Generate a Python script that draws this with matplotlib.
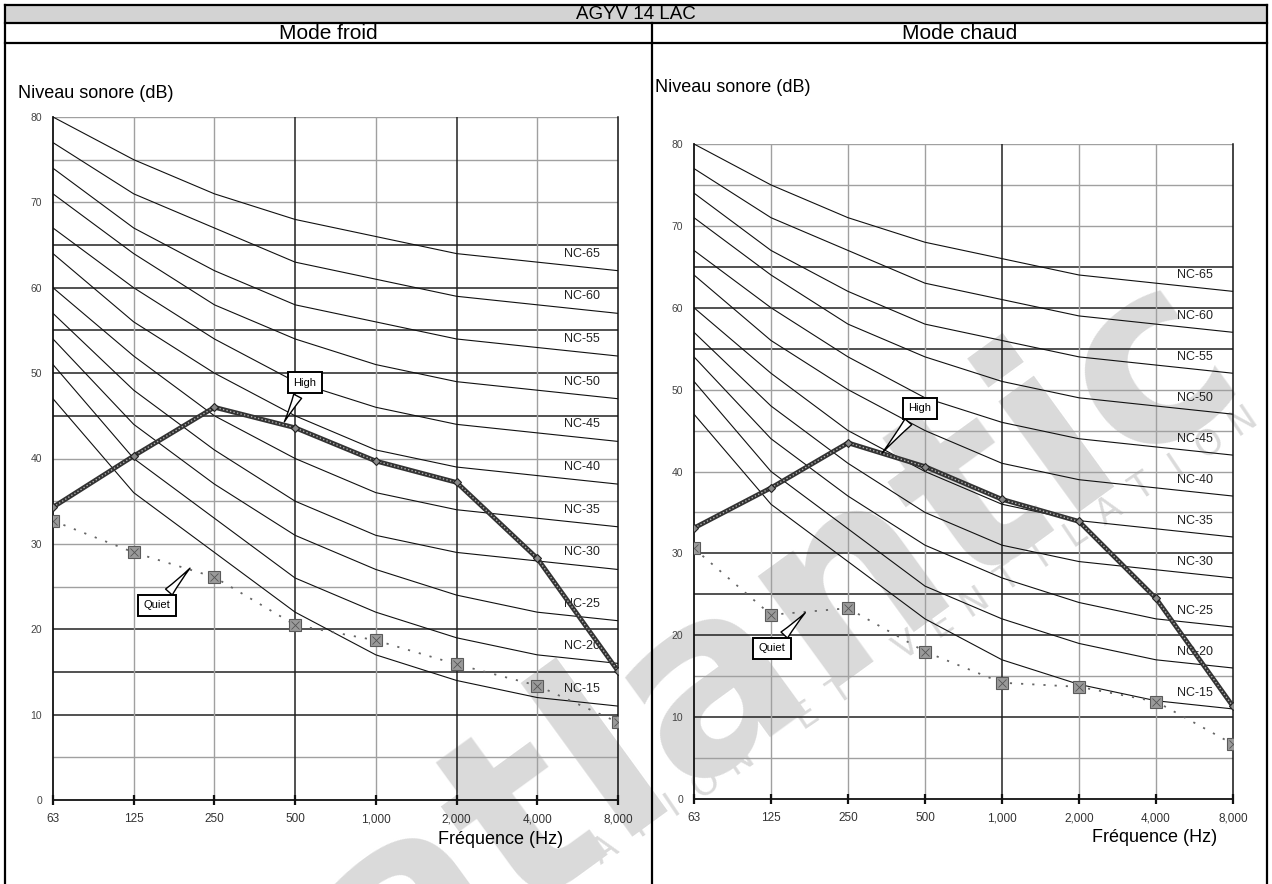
import matplotlib
matplotlib.use("Agg")
import matplotlib.pyplot as plt
from matplotlib.lines import Line2D
from matplotlib.patches import Rectangle
import numpy as np

W, H, DPI = 1272, 884, 100

# ---- data -------------------------------------------------------------
freq_labels = ["63", "125", "250", "500", "1,000", "2,000", "4,000", "8,000"]

nc_names = ["NC-15", "NC-20", "NC-25", "NC-30", "NC-35", "NC-40",
            "NC-45", "NC-50", "NC-55", "NC-60", "NC-65"]
nc_15 = [47, 36, 29, 22, 17, 14, 12, 11]
nc_20 = [51, 40, 33, 26, 22, 19, 17, 16]
nc_25 = [54, 44, 37, 31, 27, 24, 22, 21]
nc_30 = [57, 48, 41, 35, 31, 29, 28, 27]
nc_35 = [60, 52, 45, 40, 36, 34, 33, 32]
nc_40 = [64, 56, 50, 45, 41, 39, 38, 37]
nc_45 = [67, 60, 54, 49, 46, 44, 43, 42]
nc_50 = [71, 64, 58, 54, 51, 49, 48, 47]
nc_55 = [74, 67, 62, 58, 56, 54, 53, 52]
nc_60 = [77, 71, 67, 63, 61, 59, 58, 57]
nc_65 = [80, 75, 71, 68, 66, 64, 63, 62]
nc_curves = [nc_15, nc_20, nc_25, nc_30, nc_35, nc_40,
             nc_45, nc_50, nc_55, nc_60, nc_65]

high_froid = [34.3, 40.3, 46.0, 43.6, 39.7, 37.2, 28.3, 15.1]
quiet_froid = [32.7, 29.0, 26.1, 20.5, 18.7, 15.9, 13.4, 9.1]
high_chaud = [33.1, 38.0, 43.5, 40.6, 36.6, 33.9, 24.5, 11.3]
quiet_chaud = [30.6, 22.5, 23.3, 18.0, 14.2, 13.7, 11.9, 6.7]

title = "AGYV 14 LAC"
mode_titles = ["Mode froid", "Mode chaud"]
ylabel = "Niveau sonore (dB)"
xlabel = "Fréquence (Hz)"

plt.rcParams["font.family"] = ["Liberation Sans", "DejaVu Sans"]

fig = plt.figure(figsize=(W / DPI, H / DPI), dpi=DPI)


def fx(x):
    return x / W


def fy(y):
    return 1 - y / H


# ---- watermark (behind everything) -------------------------------------
wm_color = "#dadada"
fig.text(fx(775), fy(640), "atlantic", rotation=36, rotation_mode="anchor",
         ha="center", va="center", fontsize=180, fontweight="bold",
         color=wm_color, zorder=-2, family="DejaVu Sans")
sub = "CLIMATISATION ET VENTILATION"
ang = 34
end = np.array([1243.0, 420.0])
d = np.array([np.cos(np.radians(ang)), -np.sin(np.radians(ang))])
step = 40.5
for i, ch in enumerate(sub[::-1]):
    p = end - d * step * i
    if ch != " " and 15 < p[0] < W - 15 and 15 < p[1] < H - 15:
        fig.text(fx(p[0]), fy(p[1]), ch, rotation=ang, ha="center", va="center",
                 fontsize=25, color=wm_color, zorder=-2, family="DejaVu Sans")

# ---- table frame ---------------------------------------------------------
fig.patches.append(Rectangle((fx(5), fy(23)), fx(1267) - fx(5), fy(5) - fy(23),
                             transform=fig.transFigure, facecolor="#d3d3d3",
                             edgecolor="none", zorder=-1))
frame_lines = [
    ((5, 1267), (5, 5)),
    ((5, 1267), (23, 23)),
    ((5, 1267), (43, 43)),
    ((5, 5), (5, 884)),
    ((1267, 1267), (5, 884)),
    ((652, 652), (23, 884)),
]
for xs, ys in frame_lines:
    fig.add_artist(Line2D([fx(v) for v in xs], [fy(v) for v in ys],
                          transform=fig.transFigure, color="black", lw=1.6,
                          zorder=5))

fig.text(fx(636), fy(14.5), title, ha="center", va="center", fontsize=13.5)
fig.text(fx(328), fy(33.5), mode_titles[0], ha="center", va="center", fontsize=15)
fig.text(fx(960), fy(33.5), mode_titles[1], ha="center", va="center", fontsize=15)


# ---- charts --------------------------------------------------------------
def nc_chart(box, high, quiet, dark_h, dark_v, nc_lab_x, high_ann, quiet_ann,
             ylab_xy, xlab_xy):
    l, t, r, b = box
    ax = fig.add_axes([fx(l), fy(b), fx(r) - fx(l), fy(t) - fy(b)])
    ax.set_facecolor("none")
    x = np.arange(len(freq_labels))
    ax.set_xlim(0, len(freq_labels) - 1)
    ax.set_ylim(0, 80)

    for v in range(5, 80, 5):
        dark = v in dark_h
        ax.axhline(v, color="#222222" if dark else "#a0a0a0",
                   lw=1.1 if dark else 1.0, zorder=1)
    ax.axhline(80, color="#a0a0a0", lw=1.0, zorder=1)
    for i in range(1, len(freq_labels) - 1):
        dark = i in dark_v
        ax.axvline(i, color="#222222" if dark else "#a0a0a0",
                   lw=1.1 if dark else 1.0, zorder=1)

    for name, lv in zip(nc_names, nc_curves):
        ax.plot(x, lv, color="#111111", lw=0.8, zorder=2)
        ax.text(nc_lab_x, lv[-1] + 2, name, ha="center", va="center",
                fontsize=9, color="#222222", zorder=3)

    # quiet curve
    ax.plot(x, quiet, color="#666666", lw=1.3, ls=(0, (1.2, 5)), zorder=4)
    ax.plot(x, quiet, ls="none", marker="s", ms=8, mfc="#9a9a9a",
            mec="#5a5a5a", mew=0.8, zorder=5)
    ax.plot(x, quiet, ls="none", marker="x", ms=6, mec="#555555",
            mew=0.6, zorder=6)

    # high curve
    ax.plot(x, high, color="#333333", lw=3.4, zorder=6, solid_capstyle="round")
    ax.plot(x, high, color="#b0b0b0", lw=1.0, ls=(0, (1, 1.6)), zorder=7)
    ax.plot(x, high, ls="none", marker="D", ms=4, mfc="#888888",
            mec="#222222", mew=0.8, zorder=8)

    box_style = dict(boxstyle="square,pad=0.5", fc="white", ec="black", lw=1.4)
    for txt, (tip, pos) in (("High", high_ann), ("Quiet", quiet_ann)):
        ax.annotate(txt, xy=tip, xytext=pos, ha="center", va="center",
                    fontsize=8, bbox=box_style, zorder=10,
                    arrowprops=dict(arrowstyle="wedge,tail_width=0.8,shrink_factor=0.4",
                                    fc="white", ec="black", lw=1.0))

    for s in ("left", "bottom", "right"):
        ax.spines[s].set_color("#111111")
        ax.spines[s].set_linewidth(1.3)
    ax.spines["top"].set_visible(False)
    ax.spines["right"].set_linewidth(1.1)

    ax.set_xticks(x)
    ax.set_xticklabels(freq_labels, fontsize=8.5, color="#333333")
    ax.set_yticks(range(0, 81, 10))
    ax.set_yticklabels([str(v) for v in range(0, 81, 10)], fontsize=7.5,
                       color="#444444")
    ax.tick_params(axis="x", direction="inout", length=7, width=1.6,
                   pad=6, color="#111111")
    ax.tick_params(axis="y", length=0, pad=8)

    fig.text(fx(ylab_xy[0]), fy(ylab_xy[1]), ylabel, ha="left", va="center",
             fontsize=13)
    fig.text(fx(xlab_xy[0]), fy(xlab_xy[1]), xlabel, ha="center", va="center",
             fontsize=13)
    return ax


nc_chart((53, 117, 618, 800), high_froid, quiet_froid,
         dark_h={45, 50, 55, 60, 65, 20, 15, 10}, dark_v={3, 5},
         nc_lab_x=6.55,
         high_ann=((2.85, 44.0), (3.12, 48.9)),
         quiet_ann=((1.72, 27.4), (1.29, 22.8)),
         ylab_xy=(18, 93), xlab_xy=(501, 840))

nc_chart((694, 144, 1233, 799), high_chaud, quiet_chaud,
         dark_h={65, 60, 55, 30, 25, 20, 10}, dark_v={4},
         nc_lab_x=6.5,
         high_ann=((2.42, 42.0), (2.93, 47.7)),
         quiet_ann=((1.47, 23.0), (1.01, 18.4)),
         ylab_xy=(655, 87), xlab_xy=(1155, 837))

fig.savefig("out.png", dpi=DPI)
